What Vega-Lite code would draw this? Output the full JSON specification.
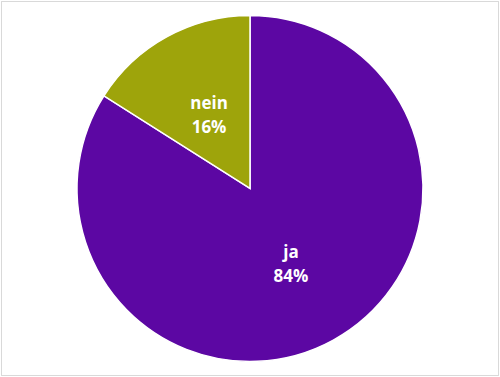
{
  "$schema": "https://vega.github.io/schema/vega-lite/v6.json",
  "width": 500,
  "height": 377,
  "autosize": {"type": "fit", "contains": "padding"},
  "padding": 0.5,
  "background": "white",
  "config": {"view": {"stroke": null}},
  "data": {"values": [
    {"answer": "ja", "value": 84, "label": "ja\n84%", "order": 1},
    {"answer": "nein", "value": 16, "label": "nein\n16%", "order": 2}
  ]},
  "layer": [
    {"mark": {"type": "rect", "fill": null, "stroke": "#d9d9d9", "strokeWidth": 1},
     "encoding": {"x": {"value": 0}, "x2": {"value": "width"}, "y": {"value": 0}, "y2": {"value": "height"}}},
    {"mark": {"type": "arc", "outerRadius": 173, "stroke": "white", "strokeWidth": 1.5},
     "encoding": {
       "theta": {"field": "value", "type": "quantitative", "stack": true},
       "order": {"field": "order", "type": "quantitative"},
       "color": {"field": "answer", "type": "nominal", "legend": null,
         "scale": {"domain": ["ja", "nein"], "range": ["#5c07a3", "#9ea40b"]}}
     }},
    {"mark": {"type": "text", "radius": 85, "dy": -10, "font": "Open Sans", "fontWeight": "bold", "fontSize": 17, "lineBreak": "\n", "lineHeight": 24, "fill": "white", "align": "center", "baseline": "middle"},
     "encoding": {
       "theta": {"field": "value", "type": "quantitative", "stack": true},
       "order": {"field": "order", "type": "quantitative"},
       "text": {"field": "label"}}}
  ]
}
